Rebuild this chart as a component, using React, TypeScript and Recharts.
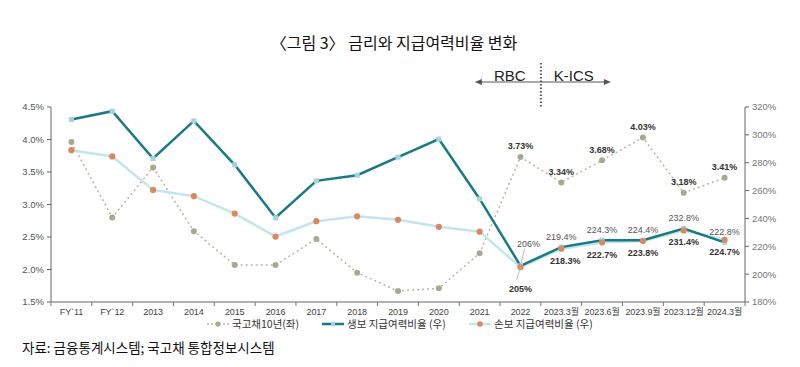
import React from "react";
import {
  ComposedChart,
  Line,
  XAxis,
  YAxis,
  ReferenceLine,
  LabelList,
} from "recharts";

const categories = [
  "FY`11", "FY`12", "2013", "2014", "2015", "2016", "2017", "2018", "2019",
  "2020", "2021", "2022", "2023.3월", "2023.6월", "2023.9월", "2023.12월", "2024.3월",
];
// 국고채 10년 금리 (%), 좌축
const treasury10y = [3.96, 2.8, 3.57, 2.59, 2.07, 2.07, 2.47, 1.95, 1.67, 1.71, 2.25, 3.73, 3.34, 3.68, 4.03, 3.18, 3.41];
// 생보 지급여력비율 (%), 우축
const lifeRatio = [311, 317, 283, 310, 278.5, 240.5, 267, 271, 284, 297, 254, 206, 219.4, 224.3, 224.4, 232.8, 222.8];
// 손보 지급여력비율 (%), 우축
const nonLifeRatio = [289, 284.5, 260.5, 256, 243.5, 227, 238, 241.5, 239, 234, 230.5, 205, 218.3, 222.7, 223.8, 231.4, 224.7];

const leftTicks = [1.5, 2, 2.5, 3, 3.5, 4, 4.5];
const rightTicks = [180, 200, 220, 240, 260, 280, 300, 320];

const data = categories.map((label, i) => ({
  label,
  treasury: treasury10y[i],
  life: lifeRatio[i],
  nonLife: nonLifeRatio[i],
}));

const FONT = '"Liberation Sans", Arial, "Noto Sans CJK KR", sans-serif';
const KFONT = '"Noto Sans CJK KR", sans-serif';
const FIRST_LABELED = 11; // 2022부터 라벨 표시
const BAND = (800 - 51 - 55) / categories.length;

const TEAL = "#187a84";
const TEAL_MARK = "#a6d2e2";
const LIGHT = "#c3e5ee";
const ORANGE = "#db8861";
const GRAY_LINE = "#b9b5a3";
const GRAY_DOT = "#a8a990";

const pct = (v: number) => (Number.isInteger(v) ? `${v}%` : `${v.toFixed(1)}%`);

function XTick(props: any) {
  const { x, y, payload, index, visibleTicksCount } = props;
  const half = BAND / 2;
  return (
    <g>
      <line x1={x - half} x2={x - half} y1={y - 6} y2={y - 2} stroke="#777" />
      {index === visibleTicksCount - 1 && (
        <line x1={x + half} x2={x + half} y1={y - 6} y2={y - 2} stroke="#777" />
      )}
      <text x={x} y={y + 6.5} textAnchor="middle" fontSize={9} fill="#444" fontFamily={FONT} letterSpacing={-0.1}>
        {payload.value}
      </text>
    </g>
  );
}

function RegimeDivider(props: any) {
  const { x1, y2 } = props;
  const arrowY = 82;
  return (
    <g>
      <line x1={x1} x2={x1} y1={63} y2={y2} stroke="#555" strokeWidth={2} strokeDasharray="1.5 2" />
      <line x1={x1 - 62} x2={x1 + 66} y1={arrowY} y2={arrowY} stroke="#555" />
      <path d={`M${x1 - 66},${arrowY} l7,-3 v6 z`} fill="#555" />
      <path d={`M${x1 + 70},${arrowY} l-7,-3 v6 z`} fill="#555" />
      <text x={x1 - 31} y={arrowY - 1.5} textAnchor="middle" fontSize={15} fill="#222" fontFamily={FONT}>
        RBC
      </text>
      <text x={x1 + 33} y={arrowY - 1.5} textAnchor="middle" fontSize={15} fill="#222" fontFamily={FONT}>
        K-ICS
      </text>
    </g>
  );
}

function TreasuryLabel(props: any) {
  const { x, y, value, index } = props;
  if (index < FIRST_LABELED) return null;
  return (
    <text x={x} y={y - 7.7} textAnchor="middle" fontSize={9} fontWeight="bold" fill="#333" fontFamily={FONT}>
      {`${Number(value).toFixed(2)}%`}
    </text>
  );
}

function LifeLabel(props: any) {
  const { x, y, value, index } = props;
  if (index < FIRST_LABELED) return null;
  if (index === FIRST_LABELED) {
    return (
      <g>
        <line x1={x} y1={y} x2={x + 4} y2={y - 17} stroke="#bbb" />
        <text x={x + 8} y={y - 19} textAnchor="middle" fontSize={9} fill="#555" fontFamily={FONT}>
          {pct(value)}
        </text>
      </g>
    );
  }
  return (
    <text x={x} y={y - 7} textAnchor="middle" fontSize={9} fill="#555" fontFamily={FONT}>
      {pct(value)}
    </text>
  );
}

function NonLifeLabel(props: any) {
  const { x, y, value, index } = props;
  if (index < FIRST_LABELED) return null;
  if (index === FIRST_LABELED) {
    return (
      <g>
        <line x1={x} y1={y} x2={x - 4} y2={y + 13} stroke="#bbb" />
        <text x={x} y={y + 24.5} textAnchor="middle" fontSize={9} fontWeight="bold" fill="#333" fontFamily={FONT}>
          {pct(value)}
        </text>
      </g>
    );
  }
  const dx = index === FIRST_LABELED + 1 ? 4 : 0;
  return (
    <text x={x + dx} y={y + 15} textAnchor="middle" fontSize={9} fontWeight="bold" fill="#333" fontFamily={FONT}>
      {pct(value)}
    </text>
  );
}

const legendItems = [
  { name: "국고채10년(좌)", left: 207, kind: "treasury" },
  { name: "생보 지급여력비율 (우)", left: 322, kind: "life" },
  { name: "손보 지급여력비율 (우)", left: 469, kind: "nonLife" },
];

function LegendIcon({ kind }: { kind: string }) {
  if (kind === "treasury") {
    return (
      <svg width={22} height={10}>
        <line x1={0} x2={22} y1={5} y2={5} stroke={GRAY_LINE} strokeWidth={1.5} strokeDasharray="2 2" />
        <circle cx={11} cy={5} r={2.6} fill={GRAY_DOT} />
      </svg>
    );
  }
  if (kind === "life") {
    return (
      <svg width={22} height={10}>
        <line x1={0} x2={22} y1={5} y2={5} stroke={TEAL} strokeWidth={2.5} />
        <rect x={9} y={3} width={4} height={4} fill={TEAL_MARK} />
      </svg>
    );
  }
  return (
    <svg width={22} height={10}>
      <line x1={0} x2={22} y1={5} y2={5} stroke={LIGHT} strokeWidth={2.5} />
      <circle cx={11} cy={5} r={2.8} fill={ORANGE} />
    </svg>
  );
}

export default function App() {
  return (
    <div style={{ position: "absolute", left: 0, top: 0, width: 800, height: 367, background: "#fff" }}>
      <div
        style={{
          position: "absolute", left: 0, top: 33, width: 788, textAlign: "center",
          fontFamily: KFONT, fontSize: 16, lineHeight: "18px", color: "#111",
        }}
      >
        〈그림 3〉 금리와 지급여력비율 변화
      </div>
      <div style={{ position: "absolute", left: 0, top: 0 }}>
        <ComposedChart width={800} height={367} data={data} margin={{ top: 107, right: 0, bottom: 45, left: 0 }}>
          <XAxis
            dataKey="label"
            scale="band"
            interval={0}
            height={20}
            tickLine={false}
            tickSize={4}
            tickMargin={2}
            axisLine={{ stroke: "#666" }}
            tick={<XTick />}
          />
          <YAxis
            yAxisId="left"
            domain={[1.5, 4.5]}
            ticks={leftTicks}
            width={51}
            tickSize={4}
            tickMargin={3}
            axisLine={{ stroke: "#666" }}
            tickLine={{ stroke: "#666" }}
            tickFormatter={(v: number) => `${v.toFixed(1)}%`}
            tick={{ fontSize: 9.5, fill: "#555", fontFamily: FONT }}
          />
          <YAxis
            yAxisId="right"
            orientation="right"
            domain={[180, 320]}
            ticks={rightTicks}
            width={55}
            tickSize={4}
            tickMargin={3}
            axisLine={{ stroke: "#666" }}
            tickLine={{ stroke: "#666" }}
            tickFormatter={(v: number) => `${v}%`}
            tick={{ fontSize: 9.5, fill: "#777", fontFamily: FONT, textAnchor: "start" }}
          />
          <ReferenceLine yAxisId="left" x="2022" position="end" shape={(p: any) => <RegimeDivider {...p} />} />
          <Line
            yAxisId="left"
            dataKey="treasury"
            stroke={GRAY_LINE}
            strokeWidth={1.5}
            strokeDasharray="2 3"
            isAnimationActive={false}
            dot={(p: any) => <circle key={`t${p.index}`} cx={p.cx} cy={p.cy} r={3} fill={GRAY_DOT} />}
            activeDot={false}
          >
            <LabelList dataKey="treasury" content={<TreasuryLabel />} />
          </Line>
          <Line
            yAxisId="right"
            dataKey="nonLife"
            stroke={LIGHT}
            strokeWidth={2.5}
            dot={false}
            activeDot={false}
            isAnimationActive={false}
          />
          <Line
            yAxisId="right"
            dataKey="life"
            stroke={TEAL}
            strokeWidth={2.5}
            isAnimationActive={false}
            activeDot={false}
            dot={(p: any) => (
              <rect key={`l${p.index}`} x={p.cx - 2.5} y={p.cy - 2.5} width={5} height={5} fill={TEAL_MARK} />
            )}
          >
            <LabelList dataKey="life" content={<LifeLabel />} />
          </Line>
          <Line
            yAxisId="right"
            dataKey="nonLife"
            stroke="none"
            isAnimationActive={false}
            activeDot={false}
            dot={(p: any) => <circle key={`n${p.index}`} cx={p.cx} cy={p.cy} r={3.1} fill={ORANGE} />}
          >
            <LabelList dataKey="nonLife" content={<NonLifeLabel />} />
          </Line>
        </ComposedChart>
      </div>
      {legendItems.map((item) => (
        <div
          key={item.name}
          style={{
            position: "absolute", left: item.left, top: 318, display: "flex", alignItems: "center", gap: 3,
            fontFamily: KFONT, fontSize: 10.5, lineHeight: "11px", color: "#333", whiteSpace: "nowrap",
          }}
        >
          <LegendIcon kind={item.kind} />
          <span>{item.name}</span>
        </div>
      ))}
      <div
        style={{
          position: "absolute", left: 22, top: 339, fontFamily: KFONT, fontSize: 13.5,
          lineHeight: "16px", color: "#111", whiteSpace: "nowrap",
        }}
      >
        자료: 금융통계시스템; 국고채 통합정보시스템
      </div>
    </div>
  );
}
